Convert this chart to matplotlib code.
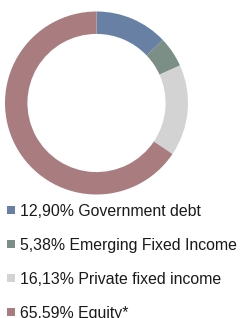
import matplotlib.pyplot as plt
from matplotlib.patches import Rectangle

labels = ['Government debt', 'Emerging Fixed Income', 'Private fixed income', 'Equity*']
values = [12.90, 5.38, 16.13, 65.59]
pct_text = ['12,90%', '5,38%', '16,13%', '65.59%']
colors = ['#6780a3', '#7b8f87', '#d3d3d3', '#a97c80']

W, H = 240, 318
fig = plt.figure(figsize=(W/100, H/100), dpi=100)
plt.rcParams['font.family'] = ['Liberation Sans', 'DejaVu Sans']

# donut
cx, cy, r = 96.5, 103, 91.5
ax = fig.add_axes([(cx-r)/W, (H-cy-r)/H, 2*r/W, 2*r/H])
ax.pie(values, colors=colors, startangle=90, counterclock=False, radius=1,
       wedgeprops=dict(width=0.245, edgecolor='none'))
ax.set_xlim(-1, 1)
ax.set_ylim(-1, 1)
ax.set_aspect('equal')
ax.axis('off')

# legend
row_y = [210, 244, 278, 312]
for i in range(len(labels)):
    y = row_y[i]
    fig.patches.append(Rectangle((7.3/W, (H-y-4)/H), 8/W, 8/H, transform=fig.transFigure,
                                 facecolor=colors[i], edgecolor='none'))
    fig.text(19.8/W, (H-y-6)/H, pct_text[i] + ' ' + labels[i], fontsize=11.4,
             va='baseline', ha='left', color='#1a1a1a')

fig.savefig('out.png', dpi=100)
